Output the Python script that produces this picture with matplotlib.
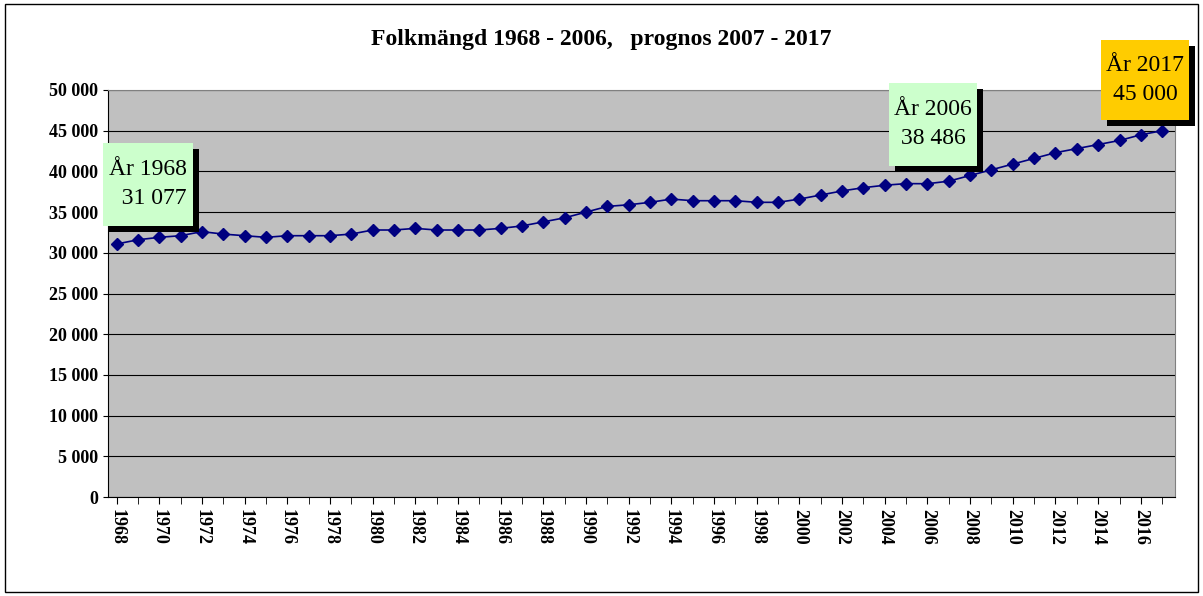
import matplotlib
matplotlib.use("Agg")
import matplotlib.pyplot as plt
from matplotlib.patches import Rectangle

years = list(range(1968, 2018))
population = [31077, 31600, 31900, 32100, 32600, 32300, 32100, 31900, 32100, 32100,
              32100, 32300, 32800, 32800, 33000, 32800, 32800, 32800, 33000, 33300,
              33800, 34300, 35000, 35700, 35900, 36200, 36600, 36400, 36400, 36400,
              36200, 36200, 36600, 37100, 37600, 38000, 38300, 38500, 38486, 38800,
              39500, 40200, 40900, 41600, 42300, 42800, 43300, 43800, 44500, 45000]
yticks = list(range(0, 50001, 5000))
ytick_labels = ["0"] + [f"{v // 1000} 000" for v in yticks[1:]]
xtick_years = list(range(1968, 2017, 2))

W, H = 1203, 596
plt.rcParams["font.family"] = "Liberation Serif"
fig = plt.figure(figsize=(W / 100, H / 100), dpi=100)
fig.patches.append(Rectangle((0.004, 0.006), 0.992, 0.988, transform=fig.transFigure,
                             fill=False, edgecolor="black", linewidth=1))
ax = fig.add_axes([108 / W, 1 - 497 / H, 1067 / W, 407 / H])
ax.set_facecolor("#c0c0c0")
ax.plot(years, population, color="#000080", marker="D", markersize=6, linewidth=1.2)
ax.set_xlim(1967.6, 2017.6)
ax.set_ylim(0, 50000)
ax.set_yticks(yticks)
ax.set_yticklabels(ytick_labels, fontsize=13, fontweight="bold")
ax.set_xticks(xtick_years)
ax.set_xticklabels([str(y) for y in xtick_years], rotation=-90, fontsize=13, fontweight="bold")
ax.set_xticks(years, minor=True)
ax.tick_params(axis="x", which="both", direction="out", length=5)
ax.grid(axis="y", color="black", linewidth=0.8)
ax.set_axisbelow(True)
for s in ax.spines.values():
    s.set_color("#808080")
ax.spines["bottom"].set_color("black")
ax.spines["left"].set_color("black")
fig.text(0.5, 1 - 40 / H, "Folkmängd 1968 - 2006,   prognos 2007 - 2017", ha="center",
         va="center", fontsize=17, fontweight="bold")

# callout boxes in pixel coordinates: (left, top, width, height, text, colour)
boxes = [(103, 143, 90, 83, "År 1968\n  31 077", "#ccffcc"),
         (889, 83, 88, 83, "År 2006\n38 486", "#ccffcc"),
         (1101, 40, 88, 80, "År 2017\n45 000", "#ffcc00")]
for left, top, w, h, text, colour in boxes:
    x0, y0 = left / W, 1 - (top + h) / H
    ax.add_patch(Rectangle((x0 + 6 / W, y0 - 6 / H), w / W, h / H, transform=fig.transFigure,
                           facecolor="black", clip_on=False, zorder=5))
    ax.add_patch(Rectangle((x0, y0), w / W, h / H, transform=fig.transFigure,
                           facecolor=colour, clip_on=False, zorder=6))
    ax.text(x0 + w / W / 2, y0 + h / H / 2, text, transform=fig.transFigure, ha="center",
            va="center", fontsize=17, linespacing=1.5, zorder=7)

fig.savefig("out.png", dpi=100)
